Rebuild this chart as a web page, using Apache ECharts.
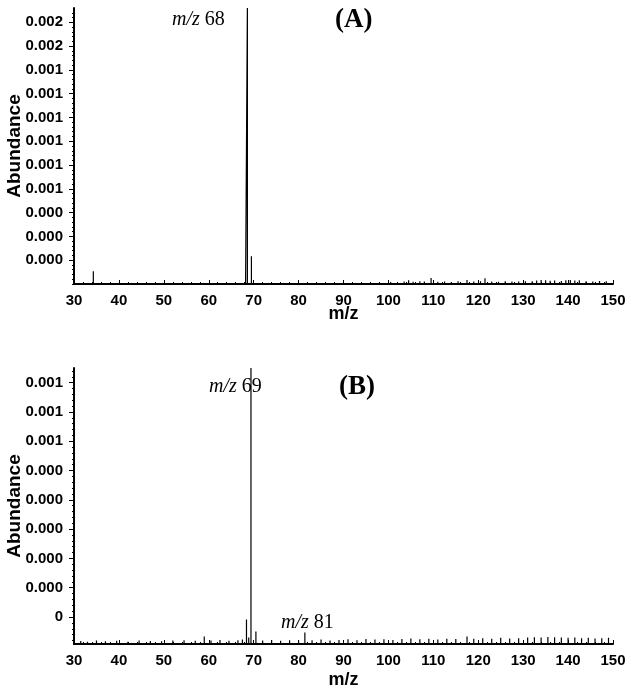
<!DOCTYPE html>
<html>
<head>
<meta charset="utf-8">
<script src="https://cdn.jsdelivr.net/npm/echarts@6/dist/echarts.min.js"></script>
<style>
  html, body { margin: 0; padding: 0; background: #fff; }
  #chart { width: 628px; height: 692px; }
</style>
</head>
<body>
<div id="chart"></div>
<script>
// x axis (m/z)
const xMin = 30;
const xMax = 150;

// panel A: y ticks + labels as printed
const yTicksA = [0.00015, 0.0003, 0.00045, 0.0006, 0.00075, 0.0009, 0.00105, 0.0012, 0.00135, 0.0015, 0.00165];
const yLabelsA = ['0.000', '0.000', '0.000', '0.001', '0.001', '0.001', '0.001', '0.001', '0.001', '0.002', '0.002'];
const yMinA = 0;
const yMaxA = 0.00174;

// panel B
const yTicksB = [0, 0.0001, 0.0002, 0.0003, 0.0004, 0.0005, 0.0006, 0.0007, 0.0008];
const yLabelsB = ['0', '0.000', '0.000', '0.000', '0.000', '0.000', '0.001', '0.001', '0.001'];
const yMinB = -0.000092;
const yMaxB = 0.00085;

// panel A peaks
const mzA = [34.3, 68.2, 68.6, 69.5];
const abA = [0.00008, 0.00002, 0.00174, 0.000175];

// panel A baseline noise
const noiseMzA = [31.5, 33, 36, 38.5, 41, 43.5, 46, 48.5, 51, 53.5, 56, 58.5, 61, 63.5, 66, 67.2,
  71, 73, 75.5, 78, 80.5, 83, 85.5, 88, 90.5, 93, 95.5, 97, 99, 100.5, 102, 103.5, 104.5, 105.5,
  107, 108, 109.5, 111, 112.5, 114, 115.5, 117.5, 119, 120.5, 121.5, 123, 124.5, 126, 127.5, 129,
  130.5, 132, 133, 134, 135, 136, 137, 138.5, 139.5, 140.5, 141.5, 142.5, 144, 145.5, 147, 148.5];
const noiseA = [0.000006, 0.000005, 0.000006, 0.000005, 0.000007, 0.000005, 0.000006, 0.000007,
  0.000005, 0.000006, 0.000007, 0.000006, 0.000008, 0.000006, 0.000009, 0.000012,
  0.000008, 0.000006, 0.000007, 0.000006, 0.000008, 0.000007, 0.000009, 0.000008, 0.000007,
  0.00001, 0.000012, 0.000009, 0.000011, 0.000013, 0.000012, 0.000016, 0.000024, 0.000014,
  0.000018, 0.000015, 0.000038, 0.000014, 0.000016, 0.000013, 0.000017, 0.000026, 0.000015,
  0.000018, 0.000036, 0.000016, 0.000014, 0.000017, 0.000015, 0.000016,
  0.000018, 0.000017, 0.000022, 0.000026, 0.000024, 0.00002, 0.000022, 0.000019, 0.000023,
  0.000025, 0.000022, 0.000024, 0.000018, 0.000016, 0.000019, 0.000017];

// panel B peaks
const mzB = [59, 68.4, 69.4, 70.5, 81.4, 117.5];
const abB = [-0.000066, -0.000008, 0.00085, -0.000049, -0.000053, -0.000066];

// panel B baseline noise
const noiseMzB = [31.5, 33, 35, 37, 39.5, 42, 44.5, 47, 49.5, 52, 54.5, 57, 60.5, 62.5, 64.5, 66.5,
  67.5, 68.9, 72, 74, 76, 78, 80, 83, 85, 87, 89, 91, 93, 95, 97, 99, 101, 103, 105, 107, 109,
  111, 113, 115, 119, 121, 123, 125, 127, 129, 131, 132.5, 134, 135.5, 137, 138.5, 140, 141.5,
  143, 144.5, 146, 147.5, 149];
const noiseB = [-0.000082, -0.000084, -0.00008, -0.000083, -0.000081, -0.000084, -0.00008, -0.000082,
  -0.000083, -0.00008, -0.000079, -0.000081, -0.00008, -0.000078, -0.000081, -0.000079,
  -0.000077, -0.00007, -0.00008, -0.000078, -0.000081, -0.000079, -0.00008, -0.000079, -0.000077,
  -0.00008, -0.000078, -0.000076, -0.000079, -0.000075, -0.000077, -0.000076, -0.000078, -0.000075,
  -0.000073, -0.000076, -0.000074, -0.000077, -0.000074, -0.000075, -0.000074, -0.000072, -0.000074,
  -0.000071, -0.000073, -0.000072, -0.00007, -0.000069, -0.00007, -0.000068, -0.000069, -0.00007,
  -0.000071, -0.00007, -0.000072, -0.000071, -0.000073, -0.000072, -0.000071];

// turn peak lists into a stick spectrum (vertical line per m/z from the base)
function sticks(mz, ab, nmz, nab, base) {
  const pts = mz.map((m, i) => [m, ab[i]]).concat(nmz.map((m, i) => [m, nab[i]]));
  pts.sort((a, b) => a[0] - b[0]);
  const out = [[xMin, base]];
  pts.forEach(p => {
    out.push([p[0], base], [p[0], p[1]], [p[0], base]);
  });
  out.push([xMax, base]);
  return out;
}

function minorOf(ticks, lo, hi) {
  const step = (ticks[1] - ticks[0]) / 5;
  const res = [];
  for (let v = ticks[0] - 5 * step; v <= hi + 1e-12; v += step) {
    if (v >= lo - 1e-12) res.push(v);
  }
  return res;
}

function labelFor(ticks, labels) {
  return (v) => {
    let best = 0;
    ticks.forEach((t, i) => {
      if (Math.abs(t - v) < Math.abs(ticks[best] - v)) best = i;
    });
    return labels[best];
  };
}

const sans = 'Liberation Sans, Arial, sans-serif';
const serif = 'Liberation Serif, Times New Roman, serif';

const xAxisBase = (grid, gap) => ({
  type: 'value',
  gridIndex: grid,
  min: xMin,
  max: xMax,
  interval: 10,
  name: 'm/z',
  nameLocation: 'middle',
  nameGap: gap,
  nameMoveOverlap: false,
  nameTextStyle: { fontFamily: sans, fontWeight: 'bold', fontSize: 18, color: '#000' },
  axisLine: { onZero: false, lineStyle: { color: '#000', width: 2 } },
  axisTick: { inside: true, length: 4, lineStyle: { color: '#000', width: 1 } },
  minorTick: { show: true, splitNumber: 5, length: 2, lineStyle: { color: '#000' } },
  axisLabel: { fontFamily: sans, fontWeight: 'bold', fontSize: 15, color: '#000', margin: 9 },
  splitLine: { show: false }
});

const yAxisBase = (grid, min, max, ticks, labels) => ({
  type: 'value',
  gridIndex: grid,
  position: 'left',
  min: min,
  max: max,
  name: 'Abundance',
  nameLocation: 'middle',
  nameGap: 50,
  nameMoveOverlap: false,
  nameTextStyle: { fontFamily: sans, fontWeight: 'bold', fontSize: 19, color: '#000' },
  axisLine: { show: true, onZero: false, lineStyle: { color: '#000', width: 2 } },
  axisTick: { show: true, length: 5, customValues: ticks, lineStyle: { color: '#000', width: 1 } },
  axisLabel: {
    customValues: ticks,
    fontFamily: sans, fontWeight: 'bold', fontSize: 15, color: '#000', margin: 11,
    formatter: labelFor(ticks, labels)
  },
  splitLine: { show: false }
});

const yMinorAxis = (grid, min, max, ticks) => ({
  type: 'value',
  gridIndex: grid,
  position: 'left',
  offset: 0,
  min: min,
  max: max,
  axisLine: { show: false, onZero: false },
  axisTick: { show: true, length: 2, customValues: minorOf(ticks, min, max), lineStyle: { color: '#000' } },
  axisLabel: { show: false },
  splitLine: { show: false }
});

const titleRich = (txt, left, top) => ({
  text: '{i|m/z} ' + txt,
  left: left,
  top: top,
  textStyle: {
    fontFamily: serif, fontSize: 20, fontWeight: 'normal', color: '#000',
    rich: { i: { fontFamily: serif, fontStyle: 'italic', fontSize: 20, color: '#000' } }
  }
});

const chart = echarts.init(document.getElementById('chart'), null, { renderer: 'canvas' });
chart.setOption({
  backgroundColor: '#fff',
  animation: false,
  title: [
    { text: '(A)', left: 330, top: 2, textStyle: { fontFamily: serif, fontWeight: 'bold', fontSize: 27, color: '#000' } },
    { text: '(B)', left: 334, top: 369, textStyle: { fontFamily: serif, fontWeight: 'bold', fontSize: 27, color: '#000' } },
    titleRich('68', 167, 5),
    titleRich('69', 204, 372),
    titleRich('81', 276, 608)
  ],
  grid: [
    { left: 74, top: 8, width: 539, height: 276, outerBoundsMode: 'none', containLabel: false },
    { left: 74, top: 368, width: 539, height: 276, outerBoundsMode: 'none', containLabel: false }
  ],
  xAxis: [xAxisBase(0, 21), xAxisBase(1, 27)],
  yAxis: [
    yAxisBase(0, yMinA, yMaxA, yTicksA, yLabelsA),
    yAxisBase(1, yMinB, yMaxB, yTicksB, yLabelsB),
    yMinorAxis(0, yMinA, yMaxA, yTicksA),
    yMinorAxis(1, yMinB, yMaxB, yTicksB)
  ],
  series: [
    {
      type: 'line', xAxisIndex: 0, yAxisIndex: 0,
      data: sticks(mzA, abA, noiseMzA, noiseA, yMinA),
      showSymbol: false, lineStyle: { color: '#000', width: 1.2 }
    },
    {
      type: 'line', xAxisIndex: 1, yAxisIndex: 1,
      data: sticks(mzB, abB, noiseMzB, noiseB, yMinB),
      showSymbol: false, lineStyle: { color: '#000', width: 1.2 }
    }
  ]
});
</script>
</body>
</html>
